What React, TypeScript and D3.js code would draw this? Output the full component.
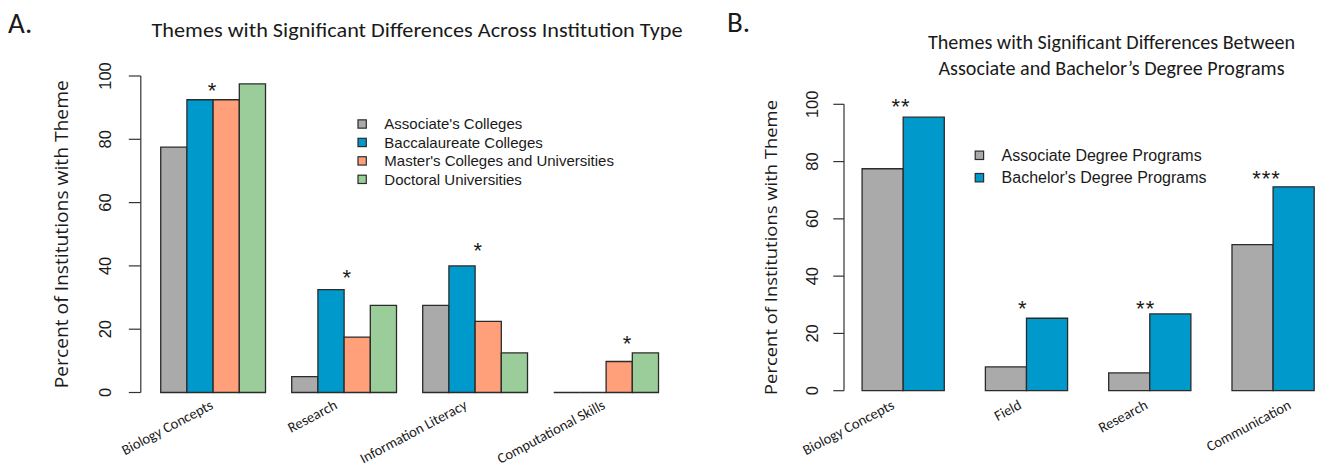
import React, { useEffect, useRef } from "react";
import * as d3 from "d3";

// ---- data: panel A ----
const themesA = ["Biology Concepts", "Research", "Information Literacy", "Computational Skills"];
const associatesColleges = [77.5, 5, 27.5, 0];
const baccalaureateColleges = [92.5, 32.5, 40, 0];
const mastersColleges = [92.5, 17.5, 22.5, 9.8];
const doctoralUniversities = [97.5, 27.5, 12.5, 12.5];
const legendA = [
  "Associate's Colleges",
  "Baccalaureate Colleges",
  "Master's Colleges and Universities",
  "Doctoral Universities",
];
const sigA = ["*", "*", "*", "*"];
const sigValA = [97, 38, 46.5, 17];
const sigBarA = [1.96, 2.1, 2.1, 2.8];

// ---- data: panel B ----
const themesB = ["Biology Concepts", "Field", "Research", "Communication"];
const associateDegree = [77.5, 8.3, 6.2, 51];
const bachelorDegree = [95.5, 25.3, 26.8, 71.2];
const legendB = ["Associate Degree Programs", "Bachelor's Degree Programs"];
const sigB = ["**", "*", "**", "***"];
const sigValB = [101, 30.5, 30.5, 76];
const sigBarB = [0.95, 0.9, 0.9, 0.84];

const yTicks = [0, 20, 40, 60, 80, 100];

const colorsA = ["#AAAAAA", "#0099CC", "#FFA07A", "#9ACD99"];
const colorsB = ["#AAAAAA", "#0099CC"];

const TITLE_FONT = "Calibri, Lato, sans-serif";
const R_FONT = "'Liberation Sans', Arial, sans-serif";
const YLAB_FONT = "'Open Sans', sans-serif";

type Panel = {
  series: number[][];
  colors: string[];
  themes: string[];
  legend: string[];
  sig: string[];
  sigVal: number[];
  sigBar: number[];
  labelDx: number[];
  xLeft: number; // pixel where x domain starts
  unit: number; // one bar width in px
  y0: number;
  y100: number;
  tickLabelX: number;
  tickLen: number;
  ylabX: number;
  ylabLen: number;
  ylabSize: number;
  legendX: number;
  legendY: number;
  legendStep: number;
  legendBox: number;
  legendSize: number;
};

function drawPanel(svg: d3.Selection<SVGSVGElement, unknown, null, undefined>, p: Panel) {
  const nb = p.series.length;
  const ng = p.themes.length;
  const per = nb + 1;
  const lastUnit = ng * per;
  const pad = 0.04 * (lastUnit - 1);
  const x = d3
    .scaleLinear()
    .domain([1 - pad, lastUnit + pad])
    .range([p.xLeft, p.xLeft + (lastUnit - 1 + 2 * pad) * p.unit]);
  const y = d3.scaleLinear().domain([0, 100]).range([p.y0, p.y100]);

  const g = svg.append("g");

  // bars (paths so zero-height bars still show their outline)
  p.series.forEach((vals, s) => {
    vals.forEach((v, i) => {
      const u = 1 + i * per + s;
      const x0 = x(u), x1 = x(u + 1);
      g.append("path")
        .attr("d", `M${x0},${y(0)}H${x1}V${y(v)}H${x0}Z`)
        .attr("fill", p.colors[s])
        .attr("stroke", "#2b2b2b")
        .attr("stroke-width", 1.3);
    });
  });

  // y axis
  g.append("line")
    .attr("x1", x.range()[0]).attr("x2", x.range()[0])
    .attr("y1", y(0)).attr("y2", y(100))
    .attr("stroke", "#333").attr("stroke-width", 1.2);
  yTicks.forEach((t) => {
    g.append("line")
      .attr("x1", x.range()[0] - p.tickLen).attr("x2", x.range()[0])
      .attr("y1", y(t)).attr("y2", y(t))
      .attr("stroke", "#333").attr("stroke-width", 1.2);
    g.append("text")
      .attr("transform", `translate(${p.tickLabelX},${y(t)}) rotate(-90)`)
      .attr("text-anchor", "middle")
      .attr("font-family", R_FONT)
      .attr("font-size", 16.5)
      .attr("fill", "#1a1a1a")
      .text(t);
  });

  // y label
  g.append("text")
    .attr("transform", `translate(${p.ylabX},${(y(0) + y(100)) / 2}) rotate(-90)`)
    .attr("text-anchor", "middle")
    .attr("font-family", YLAB_FONT)
    .attr("font-size", p.ylabSize)
    .attr("textLength", p.ylabLen)
    .attr("lengthAdjust", "spacingAndGlyphs")
    .attr("fill", "#1a1a1a")
    .text("Percent of Institutions with Theme");

  // category labels
  p.themes.forEach((t, i) => {
    const cx = x(1 + i * per + nb / 2);
    g.append("text")
      .attr("transform", `translate(${cx + p.labelDx[i]},${408}) rotate(-28)`)
      .attr("text-anchor", "end")
      .attr("font-family", TITLE_FONT)
      .attr("font-size", 14.5)
      .attr("fill", "#1a1a1a")
      .text(t);
  });

  // significance stars
  p.sig.forEach((s, i) => {
    const sx = x(1 + i * per + p.sigBar[i]);
    g.append("text")
      .attr("x", sx)
      .attr("y", y(p.sigVal[i]) + 12.5)
      .attr("text-anchor", "middle")
      .attr("font-family", R_FONT)
      .attr("font-size", 22)
      .attr("letter-spacing", s.length > 1 ? 1 : 0)
      .attr("fill", "#1a1a1a")
      .text(s);
  });

  // legend
  p.legend.forEach((l, i) => {
    const cy = p.legendY + i * p.legendStep;
    g.append("rect")
      .attr("x", p.legendX)
      .attr("y", cy - p.legendBox / 2)
      .attr("width", p.legendBox)
      .attr("height", p.legendBox)
      .attr("fill", p.colors[i])
      .attr("stroke", "#2b2b2b")
      .attr("stroke-width", 1.2);
    g.append("text")
      .attr("x", p.legendX + p.legendBox + 18)
      .attr("y", cy + p.legendSize * 0.36)
      .attr("font-family", R_FONT)
      .attr("font-size", p.legendSize)
      .attr("fill", "#1a1a1a")
      .text(l);
  });
}

export default function App() {
  const ref = useRef<SVGSVGElement>(null);

  useEffect(() => {
    const svg = d3.select(ref.current!);
    svg.selectAll("*").remove();

    svg.append("rect").attr("width", 1319).attr("height", 472).attr("fill", "#fff");

    // panel letters and titles
    svg.append("text").attr("x", 8).attr("y", 33)
      .attr("font-family", TITLE_FONT).attr("font-size", 29).attr("fill", "#1a1a1a").text("A.");
    svg.append("text").attr("x", 727).attr("y", 32)
      .attr("font-family", TITLE_FONT).attr("font-size", 29).attr("fill", "#1a1a1a").text("B.");

    svg.append("text").attr("x", 417).attr("y", 37)
      .attr("text-anchor", "middle").attr("font-family", TITLE_FONT).attr("font-size", 19.5)
      .attr("textLength", 531).attr("lengthAdjust", "spacingAndGlyphs").attr("fill", "#1a1a1a")
      .text("Themes with Significant Differences Across Institution Type");
    svg.append("text").attr("x", 1111.5).attr("y", 49)
      .attr("text-anchor", "middle").attr("font-family", TITLE_FONT).attr("font-size", 19.5)
      .attr("textLength", 367).attr("lengthAdjust", "spacingAndGlyphs").attr("fill", "#1a1a1a")
      .text("Themes with Significant Differences Between");
    svg.append("text").attr("x", 1111.5).attr("y", 75)
      .attr("text-anchor", "middle").attr("font-family", TITLE_FONT).attr("font-size", 19.5)
      .attr("textLength", 346).attr("lengthAdjust", "spacingAndGlyphs").attr("fill", "#1a1a1a")
      .text("Associate and Bachelor\u2019s Degree Programs");

    drawPanel(svg, {
      series: [associatesColleges, baccalaureateColleges, mastersColleges, doctoralUniversities],
      colors: colorsA,
      themes: themesA,
      legend: legendA,
      sig: sigA,
      sigVal: sigValA,
      sigBar: sigBarA,
      labelDx: [1, -6, -7, 0],
      xLeft: 140.8,
      unit: 26.2,
      y0: 392.5,
      y100: 76,
      tickLabelX: 111,
      tickLen: 12,
      ylabX: 68,
      ylabLen: 308,
      ylabSize: 17.5,
      legendX: 358,
      legendY: 124,
      legendStep: 18.45,
      legendBox: 8.3,
      legendSize: 15,
    });

    drawPanel(svg, {
      series: [associateDegree, bachelorDegree],
      colors: colorsB,
      themes: themesB,
      legend: legendB,
      sig: sigB,
      sigVal: sigValB,
      sigBar: sigBarB,
      labelDx: [-8, -4, -1, 19],
      xLeft: 844,
      unit: 41.1,
      y0: 390.7,
      y100: 104.3,
      tickLabelX: 817.5,
      tickLen: 10.7,
      ylabX: 777,
      ylabLen: 295,
      ylabSize: 17,
      legendX: 975.2,
      legendY: 155.3,
      legendStep: 22.4,
      legendBox: 8.4,
      legendSize: 16,
    });
  }, []);

  return (
    <svg
      ref={ref}
      width={1319}
      height={472}
      style={{ position: "absolute", left: 0, top: 0, display: "block" }}
    />
  );
}
